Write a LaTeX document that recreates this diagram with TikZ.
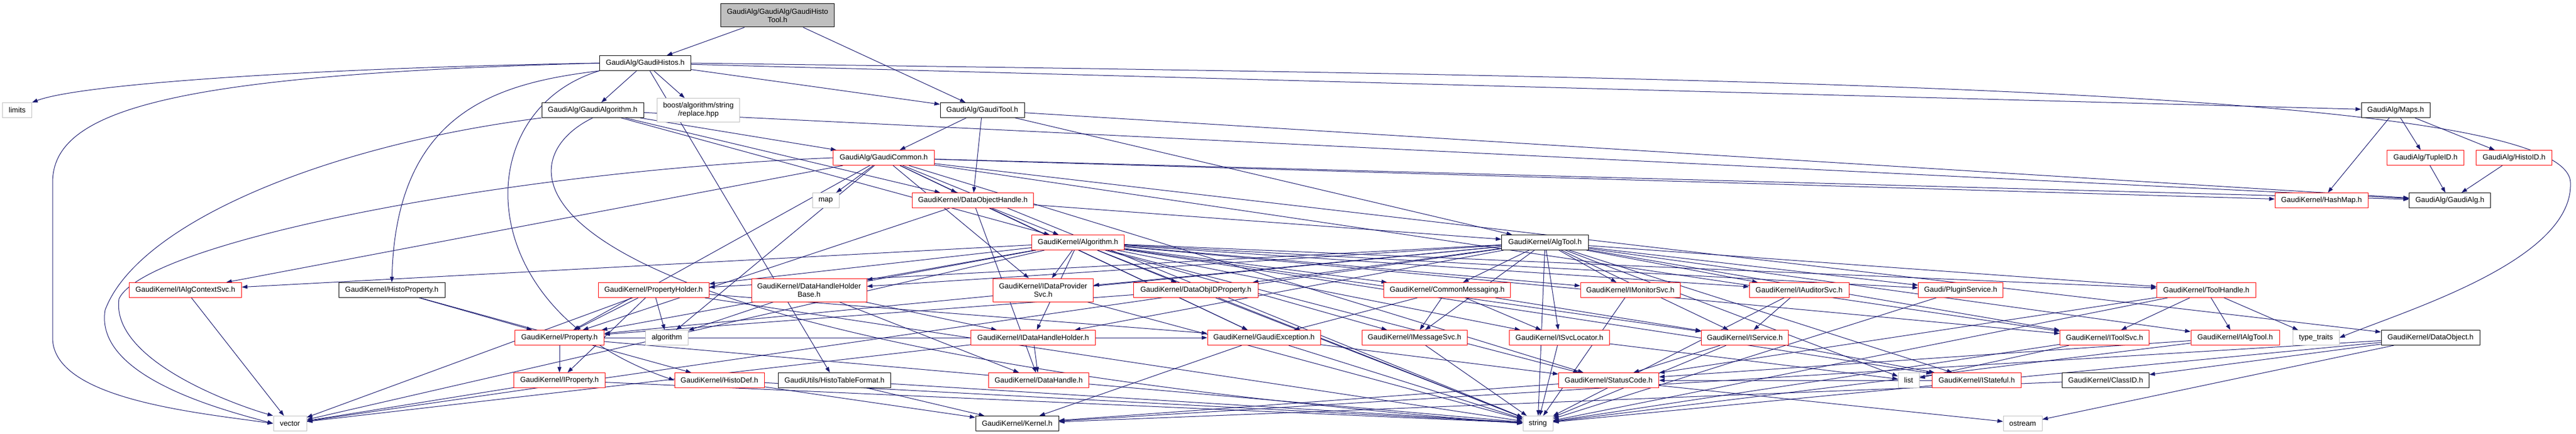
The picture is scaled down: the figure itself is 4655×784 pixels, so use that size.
\documentclass[tikz,border=0pt]{standalone}
\usepackage{fontspec}
\setmainfont{Liberation Sans}
\usetikzlibrary{arrows.meta,backgrounds}
\definecolor{edgecol}{HTML}{191970}
\definecolor{greysf}{HTML}{BFBFBF}
\tikzset{
  nd/.style={draw, fill=white, line width=1pt, minimum height=27pt, inner sep=0pt,
    font=\fontsize{13.33}{15}\selectfont, align=center},
  nb/.style={nd, draw=black},
  nr/.style={nd, draw=red},
  ng/.style={nd, draw=greysf},
  nroot/.style={nd, draw=black, fill=greysf},
  e/.style={draw=edgecol, line width=1pt, -{Triangle[length=10pt,width=7pt]}}
}
\begin{document}
\begin{tikzpicture}[x=1pt,y=-1pt]
\useasboundingbox (0,0) rectangle (4655,784);
% nodes
\node[nroot, minimum width=205pt, minimum height=42pt] (root) at (1405,28) {GaudiAlg/GaudiAlg/GaudiHisto\\Tool.h};
\node[nb, minimum width=165pt] (ghistos) at (1166,114) {GaudiAlg/GaudiHistos.h};
\node[ng, minimum width=53pt] (limits) at (31,199) {limits};
\node[nb, minimum width=184pt] (galgorithm) at (1071,199) {GaudiAlg/GaudiAlgorithm.h};
\node[ng, minimum width=149pt, minimum height=43pt] (boost) at (1262,199) {boost/algorithm/string\\/replace.hpp};
\node[nb, minimum width=152pt] (gtool) at (1775,199) {GaudiAlg/GaudiTool.h};
\node[nb, minimum width=124pt] (maps) at (4329,199) {GaudiAlg/Maps.h};
\node[nr, minimum width=183pt] (gcommon) at (1597,285) {GaudiAlg/GaudiCommon.h};
\node[nr, minimum width=139pt] (tupleid) at (4383,285) {GaudiAlg/TupleID.h};
\node[nr, minimum width=137pt] (histoid) at (4543,285) {GaudiAlg/HistoID.h};
\node[ng, minimum width=48pt] (map) at (1492,362) {map};
\node[nr, minimum width=219pt] (dohandle) at (1758,362) {GaudiKernel/DataObjectHandle.h};
\node[nr, minimum width=168pt] (hashmap) at (4195,362) {GaudiKernel/HashMap.h};
\node[nb, minimum width=147pt] (gaudialg) at (4427,362) {GaudiAlg/GaudiAlg.h};
\node[nr, minimum width=167pt] (algorithmh) at (1948,438) {GaudiKernel/Algorithm.h};
\node[nb, minimum width=157pt] (algtool) at (2792,438) {GaudiKernel/AlgTool.h};
\node[nr, minimum width=203pt] (ialgctx) at (335,524) {GaudiKernel/IAlgContextSvc.h};
\node[nb, minimum width=192pt] (histoprop) at (708,524) {GaudiKernel/HistoProperty.h};
\node[nr, minimum width=200pt] (propholder) at (1181,524) {GaudiKernel/PropertyHolder.h};
\node[nr, minimum width=208pt, minimum height=42pt] (dhhbase) at (1462,524) {GaudiKernel/DataHandleHolder\\Base.h};
\node[nr, minimum width=181pt, minimum height=42pt] (idataprov) at (1885,524) {GaudiKernel/IDataProvider\\Svc.h};
\node[nr, minimum width=225pt] (dataobjid) at (2161,524) {GaudiKernel/DataObjIDProperty.h};
\node[nr, minimum width=229pt] (commsg) at (2615,524) {GaudiKernel/CommonMessaging.h};
\node[nr, minimum width=180pt] (imonitor) at (2946,524) {GaudiKernel/IMonitorSvc.h};
\node[nr, minimum width=180pt] (iauditor) at (3251,524) {GaudiKernel/IAuditorSvc.h};
\node[nr, minimum width=153pt] (plugin) at (3543,524) {Gaudi/PluginService.h};
\node[nr, minimum width=179pt] (toolhandle) at (3987,524) {GaudiKernel/ToolHandle.h};
\node[nr, minimum width=161pt] (property) at (1011,610) {GaudiKernel/Property.h};
\node[ng, minimum width=77pt] (algorithm) at (1205,610) {algorithm};
\node[nr, minimum width=225pt] (idhh) at (1867,610) {GaudiKernel/IDataHandleHolder.h};
\node[nr, minimum width=204pt] (gexception) at (2284,610) {GaudiKernel/GaudiException.h};
\node[nr, minimum width=190pt] (imsgsvc) at (2556,610) {GaudiKernel/IMessageSvc.h};
\node[nr, minimum width=181pt] (isvcloc) at (2818,610) {GaudiKernel/ISvcLocator.h};
\node[nr, minimum width=157pt] (iservice) at (3153,610) {GaudiKernel/IService.h};
\node[nr, minimum width=161pt] (itoolsvc) at (3803,610) {GaudiKernel/IToolSvc.h};
\node[nr, minimum width=160pt] (ialgtool) at (4039,610) {GaudiKernel/IAlgTool.h};
\node[ng, minimum width=84pt] (typetraits) at (4185,610) {type\_traits};
\node[nb, minimum width=178pt] (dataobject) at (4392,610) {GaudiKernel/DataObject.h};
\node[nr, minimum width=165pt] (iproperty) at (1011,687) {GaudiKernel/IProperty.h};
\node[nr, minimum width=162pt] (histodef) at (1300,687) {GaudiKernel/HistoDef.h};
\node[nb, minimum width=203pt] (histotable) at (1508,687) {GaudiUtils/HistoTableFormat.h};
\node[nr, minimum width=181pt] (datahandle) at (1877,687) {GaudiKernel/DataHandle.h};
\node[nr, minimum width=181pt] (statuscode) at (2907,687) {GaudiKernel/StatusCode.h};
\node[ng, minimum width=38pt] (list) at (3449,687) {list};
\node[nr, minimum width=161pt] (istateful) at (3572,687) {GaudiKernel/IStateful.h};
\node[nb, minimum width=157pt] (classid) at (3805,687) {GaudiKernel/ClassID.h};
\node[ng, minimum width=60pt] (vector) at (524,765) {vector};
\node[nb, minimum width=150pt] (kernel) at (1838,765) {GaudiKernel/Kernel.h};
\node[ng, minimum width=54pt] (string) at (2779,765) {string};
\node[ng, minimum width=70pt] (ostream) at (3655,765) {ostream};
% edges
\begin{pgfonlayer}{background}
\fill[white] (0,0) rectangle (4655,784);
\draw[e] (ghistos.west) .. controls (600,122) and (150,150) .. (limits.north east);
\draw[e] (ghistos.west) .. controls (300,135) and (95,200) .. (95,330) -- (95,610) .. controls (95,720) and (350,745) .. (vector.west);
\draw[e] (galgorithm.south west) .. controls (600,260) and (250,400) .. (190,560) .. controls (170,680) and (400,740) .. (vector.west);
\draw[e] (gcommon.west) .. controls (900,310) and (260,440) .. (215,540) .. controls (200,650) and (420,730) .. (vector.north west);
\draw[e] (ghistos.south west) .. controls (900,150) and (716,200) .. (histoprop.north);
\draw[e] (ghistos.east) .. controls (3200,140) and (4640,160) .. (4645,330) .. controls (4650,470) and (4350,560) .. (typetraits.east);
\draw[e] (ghistos.south west) .. controls (845,200) and (845,560) .. (histodef.west);
\draw[e] (galgorithm.south) .. controls (892,300) and (892,620) .. (string.west);
\foreach \s/\t in {
 root/ghistos, root/gtool,
 ghistos/histotable, ghistos/galgorithm, ghistos/boost, ghistos/gtool, ghistos/maps,
 galgorithm/gcommon, galgorithm/dohandle, galgorithm/algorithmh, galgorithm/gaudialg,
 gtool/gcommon, gtool/dohandle, gtool/algtool, gtool/gaudialg,
 gcommon/map, gcommon/string, gcommon/dohandle, gcommon/ialgctx, gcommon/property, gcommon/idataprov, gcommon/gexception, gcommon/hashmap, gcommon/gaudialg, gcommon/dataobject, gcommon/itoolsvc, gcommon/statuscode, gcommon/algorithm,
 dohandle/algorithmh, dohandle/algtool, dohandle/datahandle, dohandle/property, dohandle/gexception,
 algorithmh/vector, algorithmh/string, algorithmh/ialgctx, algorithmh/propholder, algorithmh/dhhbase, algorithmh/idataprov, algorithmh/dataobjid, algorithmh/property, algorithmh/commsg, algorithmh/imonitor, algorithmh/imsgsvc, algorithmh/isvcloc, algorithmh/iservice, algorithmh/iauditor, algorithmh/plugin, algorithmh/toolhandle, algorithmh/itoolsvc, algorithmh/istateful, algorithmh/idhh, algorithmh/statuscode,
 algtool/vector, algtool/string, algtool/list, algtool/propholder, algtool/dhhbase, algtool/idataprov, algtool/dataobjid, algtool/commsg, algtool/imonitor, algtool/imsgsvc, algtool/isvcloc, algtool/iservice, algtool/iauditor, algtool/plugin, algtool/toolhandle, algtool/itoolsvc, algtool/istateful, algtool/ialgtool, algtool/idhh, algtool/property,
 ialgctx/vector, histoprop/property, histoprop/histodef,
 propholder/vector, propholder/property, propholder/iproperty, propholder/algorithm, propholder/string, propholder/gexception,
 dhhbase/algorithm, dhhbase/idhh, dhhbase/datahandle,
 idataprov/string, dataobjid/property, dataobjid/string,
 idhh/datahandle, idhh/vector,
 property/iproperty, property/string, property/gexception,
 iproperty/vector, iproperty/string,
 histodef/string, histodef/kernel, histotable/string, histotable/kernel,
 gexception/kernel, gexception/string, gexception/statuscode,
 commsg/gexception, commsg/imsgsvc, commsg/isvcloc, commsg/iservice,
 imonitor/string, imsgsvc/string, isvcloc/string, isvcloc/list,
 statuscode/kernel, statuscode/ostream,
 iservice/string, iservice/istateful, iservice/statuscode,
 iauditor/iservice, iauditor/string, plugin/string,
 itoolsvc/list, itoolsvc/string,
 toolhandle/statuscode, toolhandle/itoolsvc, toolhandle/string, toolhandle/ialgtool, toolhandle/typetraits,
 ialgtool/string, ialgtool/statuscode,
 dataobject/classid, dataobject/string, dataobject/ostream, dataobject/kernel,
 classid/kernel, istateful/statuscode,
 maps/hashmap, maps/tupleid, maps/histoid, tupleid/gaudialg, histoid/gaudialg}
 \draw[e] (\s) -- (\t);
\end{pgfonlayer}
\end{tikzpicture}
\end{document}
